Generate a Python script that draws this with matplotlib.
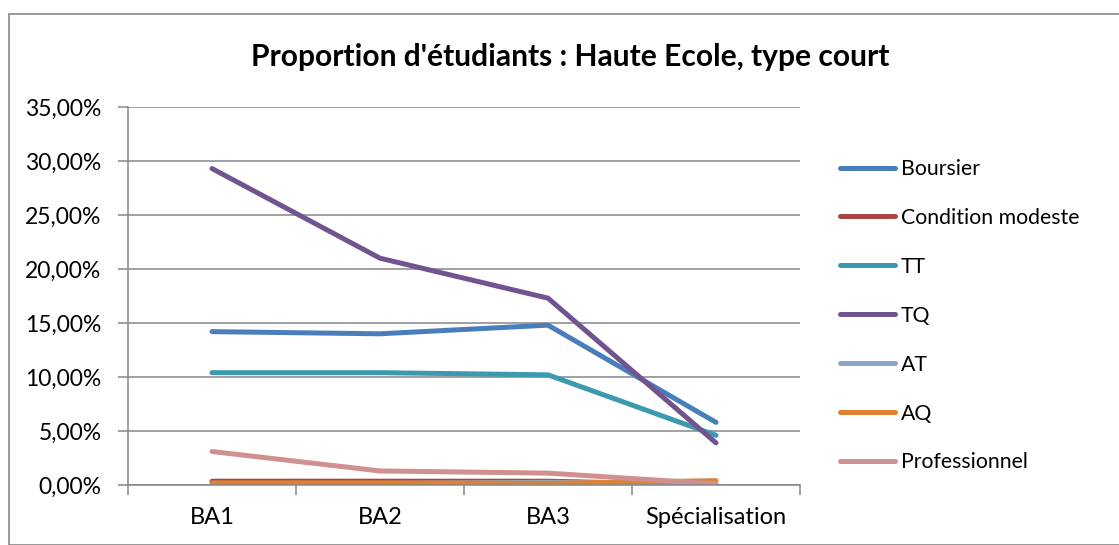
import matplotlib
matplotlib.use("Agg")
import matplotlib.pyplot as plt
from matplotlib.patches import Rectangle
from matplotlib.ticker import FuncFormatter, FixedLocator
import numpy as np

categories = ["BA1", "BA2", "BA3", "Spécialisation"]
series_names = ["Boursier", "Condition modeste", "TT", "TQ", "AT", "AQ", "Professionnel"]
boursier = [14.2, 14.0, 14.8, 5.8]
condition_modeste = [0.35, 0.35, 0.35, 0.0]
tt = [10.4, 10.4, 10.2, 4.6]
tq = [29.3, 21.0, 17.3, 3.9]
at = [0.15, 0.15, 0.25, 0.1]
aq = [0.2, 0.2, 0.15, 0.4]
professionnel = [3.1, 1.3, 1.1, 0.1]
title = "Proportion d'étudiants : Haute Ecole, type court"

data = [boursier, condition_modeste, tt, tq, at, aq, professionnel]
colors = ["#4A7EBB", "#A94442", "#3C9AB0", "#71548F", "#8EA5CB", "#DD8133", "#D09090"]

plt.rcParams['font.family'] = ['Lato', 'DejaVu Sans']

W, H = 1119, 545
fig = plt.figure(figsize=(W/100, H/100), dpi=100)

# outer chart border
fig.patches.append(Rectangle((9/W, 0), 1.2, 1 - 14/H, transform=fig.transFigure,
                             fill=False, edgecolor="#868686", linewidth=1.2))

left, right, top, bottom = 128, 800, 107, 485
ax = fig.add_axes([left/W, 1 - bottom/H, (right-left)/W, (bottom-top)/H])

x = np.arange(len(categories))
for name, vals, c in zip(series_names, data, colors):
    ax.plot(x, vals, color=c, lw=3.6, label=name, solid_capstyle='round', solid_joinstyle='round')

ax.set_xlim(-0.5, len(categories) - 0.5)
ax.set_ylim(0, 35)
ax.set_yticks(np.arange(0, 36, 5))
ax.yaxis.set_major_formatter(FuncFormatter(lambda v, p: f"{v:.2f}".replace(".", ",") + "%"))
ax.grid(axis='y', color="#868686", lw=1.1)
ax.set_axisbelow(True)

ax.xaxis.set_major_locator(FixedLocator(np.arange(-0.5, len(categories), 1)))
ax.xaxis.set_major_formatter(FuncFormatter(lambda v, p: ""))
ax.xaxis.set_minor_locator(FixedLocator(x))
ax.set_xticklabels(categories, minor=True)
ax.tick_params(axis='x', which='major', length=7, color="#868686", width=1.1, direction='out')
ax.tick_params(axis='x', which='minor', length=0, labelsize=17, pad=16)
ax.tick_params(axis='y', length=7, color="#868686", width=1.1, labelsize=16.5, pad=12)

for s in ['top', 'right']:
    ax.spines[s].set_visible(False)
for s in ['left', 'bottom']:
    ax.spines[s].set_color("#868686")
    ax.spines[s].set_linewidth(1.1)

fig.text(570/W, 1 - 57/H, title, ha='center', va='center', fontsize=21.6, fontweight='bold')

leg = ax.legend(loc='upper left', bbox_to_anchor=(840/W, 1 - 159/H), bbox_transform=fig.transFigure,
                frameon=False, fontsize=15.3, handlelength=2.6, handletextpad=0.25,
                labelspacing=1.36, borderaxespad=0, borderpad=0)

fig.savefig("out.png", dpi=100)
